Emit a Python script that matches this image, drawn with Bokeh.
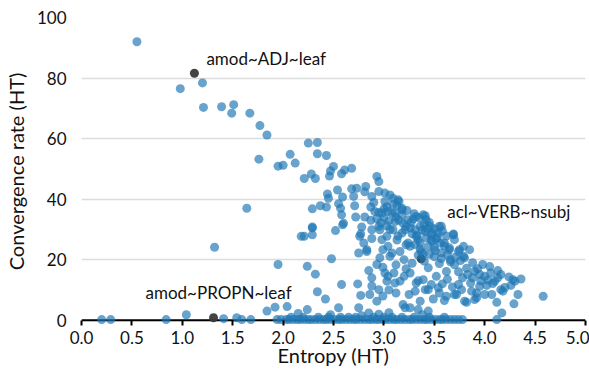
from bokeh.plotting import figure
from bokeh.models import Range1d, FixedTicker, Span, Label, ColumnDataSource, CustomJSTickFormatter
from bokeh.embed import file_html
from bokeh.resources import INLINE

# ---- data ----
entropy = [
    0.55, 0.98, 1.20, 1.21, 1.39, 1.51, 1.49, 1.67, 1.77, 1.84, 1.76, 1.95, 2.00, 2.07, 2.12,
    2.25, 2.34, 2.34, 2.43, 2.21, 2.28, 2.32, 2.46, 2.47, 2.50, 2.58, 2.61, 2.68, 2.93, 2.95,
    2.44, 2.45, 2.54, 2.59, 2.68, 2.73, 2.82, 2.70, 2.81, 2.29, 2.37, 2.43, 2.57, 2.58, 2.71,
    2.72, 2.81, 2.87, 2.29, 2.52, 2.59, 2.78, 2.18, 2.29, 2.76, 2.88, 2.83, 2.75, 1.64, 1.32,
    1.95, 2.24, 2.32, 2.48, 2.85, 2.88, 2.58, 2.74, 2.77, 2.86, 2.42, 2.34, 2.95, 2.24, 2.55,
    2.75, 2.85, 1.84, 1.92, 2.04, 1.04,
    2.95, 3.01, 3.06, 3.09, 3.15, 3.14, 2.88, 2.90, 3.01, 3.03, 3.18, 3.18, 2.91, 2.98, 3.08,
    3.04, 3.11, 2.95, 3.29, 3.41, 3.42, 3.39, 3.32, 3.24, 3.55, 3.15, 3.22, 3.36, 3.11, 2.95,
    3.03, 3.18, 3.21, 3.26, 3.31, 3.41, 3.47, 3.54, 3.57, 3.69, 3.70, 3.65, 3.75, 3.79, 3.39,
    3.34, 3.44, 3.52, 3.62, 3.74, 3.72, 3.62, 3.54, 3.44, 3.32, 3.26, 3.16, 3.11, 3.03, 3.01,
    2.93, 2.83, 2.96, 3.06, 3.16, 3.22, 3.13, 3.03, 3.09, 2.96, 3.32, 3.36, 3.42, 3.48, 2.98,
    3.04, 3.08, 2.99, 3.24, 3.26, 3.34, 3.37, 3.44, 3.47, 3.60, 3.69, 3.65, 3.74, 3.79, 3.85,
    3.80, 3.88, 3.98, 4.05, 4.13, 4.28, 4.36, 4.58, 4.33, 4.26, 4.30, 4.16, 4.18, 4.12, 4.17,
    4.12, 4.29, 3.82, 3.80, 3.92, 3.90, 4.00, 4.07, 3.87, 3.92, 3.77, 3.70, 3.55, 3.47, 3.41,
    3.39, 3.34, 3.20, 3.10, 3.04, 3.95, 3.83, 3.88, 3.95, 4.00, 4.06, 4.13, 4.16, 4.10, 3.19,
    3.21, 3.26, 3.34, 3.44, 3.36, 2.93, 3.49, 3.60, 2.21, 2.29, 2.60, 2.77, 2.80, 2.88, 2.55,
    2.87, 2.93, 3.00, 3.05, 3.12, 3.19, 3.27, 3.30, 3.35, 3.45, 3.50, 3.58, 3.62, 3.53, 3.46,
    3.40, 3.28, 3.14, 3.06, 2.97, 3.40, 3.50, 3.55, 3.57, 3.66, 3.70, 3.74, 3.78, 3.63, 3.58,
    3.68, 3.86, 3.93, 4.02, 3.50, 3.56, 3.28, 3.20, 3.12, 3.22, 2.99, 3.05, 3.12, 2.88, 2.99,
    3.25, 3.31,
    3.33, 3.38, 3.43, 3.48, 3.52, 3.31, 3.36, 3.45, 3.51, 3.57, 3.63, 3.60, 3.66, 3.71, 3.76,
    3.82, 3.90, 3.96, 4.03, 4.08, 4.20, 4.24, 3.13, 3.18, 3.23, 3.09, 3.00,
    0.20, 0.29, 0.84, 1.41, 1.54, 1.59, 1.68, 1.94,
    1.98, 2.03, 2.06, 2.10, 2.14, 2.17, 2.21, 2.25, 2.28, 2.32, 2.36, 2.40, 2.43, 2.47, 2.51,
    2.55, 2.58, 2.62, 2.66, 2.70, 2.73, 2.77, 2.81, 2.85, 2.88, 2.92, 2.95, 2.99, 3.02, 3.06,
    3.10, 3.13, 3.17, 3.21, 3.25, 3.28, 3.32, 3.36, 3.40, 3.43, 3.47, 3.51, 3.55, 3.58, 3.62,
    3.66, 3.70, 3.74, 3.78,
    2.08, 2.20, 2.35, 2.45, 2.57, 2.65, 2.72, 2.90, 3.00, 3.08, 3.18, 3.30, 3.45, 3.60,
    2.15, 2.47, 2.78, 2.95, 3.05, 3.38,
]
convergence = [
    92.0, 76.5, 78.4, 70.3, 70.5, 71.2, 68.4, 68.4, 64.3, 61.2, 53.2, 50.9, 51.2, 54.8, 51.9,
    58.5, 58.7, 55.0, 54.4, 46.8, 48.3, 46.8, 47.6, 49.3, 50.8, 48.4, 49.6, 50.2, 47.5, 45.8,
    41.7, 40.3, 43.0, 40.7, 43.4, 43.6, 44.2, 40.9, 42.4, 36.8, 37.8, 37.4, 37.0, 34.8, 37.8,
    34.1, 34.1, 37.4, 30.8, 29.6, 31.5, 30.8, 27.7, 28.2, 27.7, 29.9, 22.7, 22.2, 37.0, 24.1,
    18.4, 17.8, 15.2, 20.3, 16.4, 14.0, 11.8, 12.0, 8.2, 8.5, 7.0, 9.4, 10.1, 3.5, 4.1,
    4.1, 2.4, 3.0, 4.3, 4.5, 1.8,
    42.5, 42.0, 41.4, 40.3, 39.2, 39.8, 40.9, 38.9, 39.2, 37.5, 36.5, 37.0, 35.9, 35.4, 35.4,
    35.9, 35.4, 35.6, 33.4, 34.5, 33.2, 34.8, 34.3, 33.2, 31.0, 33.0, 31.0, 31.0, 32.6, 31.0,
    31.2, 28.8, 29.9, 30.5, 29.9, 29.2, 28.2, 28.8, 31.0, 28.5, 26.6, 23.9, 23.3, 21.1, 22.0,
    21.5, 17.3, 14.5, 16.1, 11.8, 8.5, 7.9, 10.7, 10.1, 12.3, 15.6, 12.9, 12.3, 12.9, 15.6,
    18.4, 23.3, 20.6, 21.1, 22.7, 24.9, 26.5, 27.7, 29.9, 29.9, 27.7, 25.5, 27.2, 26.0, 26.6,
    24.4, 22.2, 23.3, 25.5, 24.4, 26.6, 22.7, 24.4, 26.6, 25.5, 28.2, 23.3, 22.7, 24.4, 23.3,
    20.6, 19.0, 18.4, 17.7, 16.4, 13.4, 13.6, 7.9, 8.5, 11.5, 12.9, 10.1, 9.6, 5.9, 2.4,
    0.2, 5.4, 5.9, 6.3, 7.4, 6.8, 8.5, 8.5, 9.6, 9.0, 10.1, 8.5, 9.0, 11.8, 10.1,
    13.4, 13.0, 14.5, 15.6, 14.5, 11.2, 15.1, 14.0, 15.1, 14.5, 15.6, 14.0, 15.1, 12.9, 5.2,
    4.1, 4.1, 3.5, 3.0, 6.3, 6.3, 7.0, 6.5, 27.7, 30.5, 32.0, 28.5, 25.5, 27.0, 38.5,
    33.0, 33.5, 33.8, 32.8, 34.0, 32.0, 32.3, 35.2, 33.8, 32.3, 30.2, 29.5, 27.8, 27.3, 31.0,
    31.6, 28.5, 27.8, 30.0, 32.2, 19.5, 21.0, 18.7, 22.3, 20.0, 18.3, 16.0, 14.0, 13.5, 12.0,
    11.0, 12.3, 17.0, 11.5, 24.0, 25.5, 18.8, 20.0, 18.3, 17.0, 17.5, 10.0, 9.0, 11.3, 8.0,
    8.5, 9.6,
    28.0, 29.8, 30.3, 28.9, 26.8, 25.0, 23.5, 21.8, 23.0, 20.4, 21.7, 24.6, 19.3, 20.8, 19.7,
    17.2, 16.2, 13.0, 13.3, 12.1, 10.8, 14.3, 37.9, 34.8, 36.2, 38.2, 36.8,
    0.2, 0.2, 0.2, 0.5, 0.8, 0.2, 0.2, 0.2,
    0.2, 0.2, 0.2, 0.2, 0.2, 0.2, 0.2, 0.2, 0.2, 0.2, 0.2, 0.2, 0.2, 0.2, 0.2,
    0.2, 0.2, 0.2, 0.2, 0.2, 0.2, 0.2, 0.2, 0.2, 0.2, 0.2, 0.2, 0.2, 0.2, 0.2,
    0.2, 0.2, 0.2, 0.2, 0.2, 0.2, 0.2, 0.2, 0.2, 0.2, 0.2, 0.2, 0.2, 0.2, 0.2,
    0.2, 0.2, 0.2, 0.2,
    1.0, 1.0, 1.0, 1.0, 1.0, 1.0, 1.0, 1.0, 1.0, 1.0, 1.0, 1.0, 1.0, 1.0,
    2.2, 1.8, 1.5, 2.0, 2.5, 1.8,
]

highlight_names = ["amod~ADJ~leaf", "amod~PROPN~leaf", "acl~VERB~nsubj"]
highlight_entropy = [1.12, 1.31, 3.37]
highlight_convergence = [81.6, 0.8, 20.3]

x_ticks = [0.0, 0.5, 1.0, 1.5, 2.0, 2.5, 3.0, 3.5, 4.0, 4.5, 5.0]
y_ticks = [0, 20, 40, 60, 80, 100]

FONT = "Lato"

p = figure(width=589, height=369, output_backend="svg", toolbar_location=None,
           x_range=Range1d(0, 5), y_range=Range1d(-1.75, 100),
           min_border_left=79, min_border_right=4, min_border_top=17, min_border_bottom=43)
p.outline_line_color = None
p.background_fill_color = "white"
p.border_fill_color = "white"

# grid
p.xgrid.visible = False
p.ygrid.ticker = FixedTicker(ticks=y_ticks)
p.ygrid.grid_line_color = "#dcdcdc"
p.ygrid.grid_line_width = 1.5

# x axis
xa = p.xaxis[0]
xa.ticker = FixedTicker(ticks=x_ticks)
xa.formatter = CustomJSTickFormatter(code="return tick.toFixed(1);")
xa.axis_line_color = None
xa.major_tick_in = 5
xa.major_tick_out = 0
xa.major_tick_line_color = "black"
xa.major_tick_line_width = 2
xa.minor_tick_line_color = None
xa.major_label_standoff = 5
xa.major_label_text_font = FONT
xa.major_label_text_font_size = "17px"
xa.major_label_text_color = "#111111"
xa.axis_label = "Entropy (HT)"
xa.axis_label_text_font = FONT
xa.axis_label_text_font_size = "20px"
xa.axis_label_text_font_style = "normal"
xa.axis_label_text_color = "#111111"
xa.axis_label_standoff = -4

# y axis
ya = p.yaxis[0]
ya.ticker = FixedTicker(ticks=y_ticks)
ya.axis_line_color = None
ya.major_tick_line_color = None
ya.minor_tick_line_color = None
ya.major_tick_in = 0
ya.major_tick_out = 0
ya.major_label_standoff = 15
ya.major_label_text_font = FONT
ya.major_label_text_font_size = "17px"
ya.major_label_text_color = "#111111"
ya.axis_label = "Convergence rate (HT)"
ya.axis_label_text_font = FONT
ya.axis_label_text_font_size = "20px"
ya.axis_label_text_font_style = "normal"
ya.axis_label_text_color = "#111111"
ya.axis_label_standoff = 6

# baseline at y = 0
p.add_layout(Span(location=0, dimension="width", line_color="black", line_width=2, level="underlay"))

# highlighted points first, then the rest
hsrc = ColumnDataSource(dict(x=highlight_entropy, y=highlight_convergence, name=highlight_names))
p.scatter("x", "y", source=hsrc, size=9, fill_color="#3a3a3a", line_color=None, fill_alpha=0.95)

src = ColumnDataSource(dict(x=entropy, y=convergence))
p.scatter("x", "y", source=src, size=9, fill_color="#1f77b4", fill_alpha=0.68, line_color=None)

offsets = {
    "amod~ADJ~leaf": (12, 15, "left"),
    "amod~PROPN~leaf": (5, 25, "center"),
    "acl~VERB~nsubj": (26, 47, "left"),
}
for name, hx, hy in zip(highlight_names, highlight_entropy, highlight_convergence):
    dx, dy, align = offsets[name]
    p.add_layout(Label(x=hx, y=hy, text=name, x_offset=dx, y_offset=dy,
                       text_align=align, text_baseline="middle",
                       text_font=FONT, text_font_size="17px", text_color="#111111"))

open("out.html", "w").write(file_html(p, INLINE))
